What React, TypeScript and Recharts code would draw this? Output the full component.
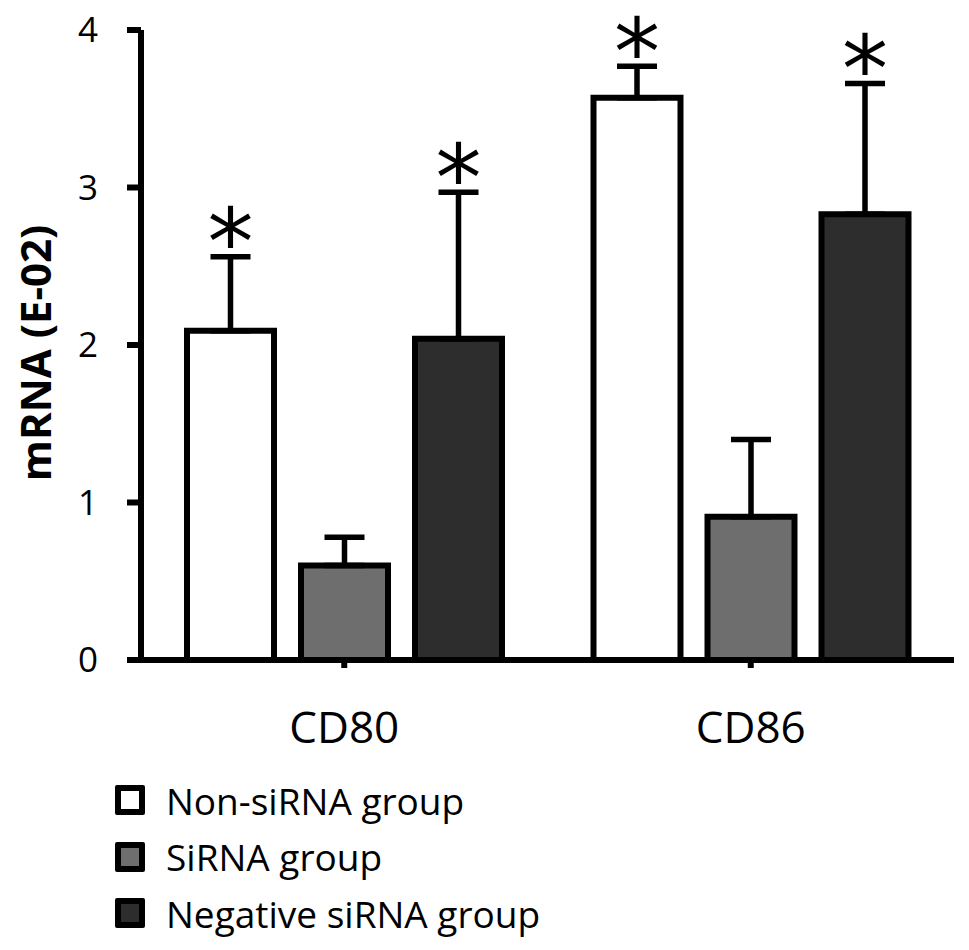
import React from 'react';
import { BarChart, Bar, XAxis, YAxis, ErrorBar, LabelList, Legend } from 'recharts';

const categories = ['CD80', 'CD86'];
const nonSiRNA = [2.09, 3.57];
const nonSiRNAErr = [0.47, 0.2];
const siRNA = [0.6, 0.91];
const siRNAErr = [0.18, 0.49];
const negSiRNA = [2.04, 2.83];
const negSiRNAErr = [0.93, 0.83];
const nonStar = [true, true];
const siStar = [false, false];
const negStar = [true, true];
const yTicks = [0, 1, 2, 3, 4];
const yLabel = 'mRNA (E-02)';

const series = [
  { key: 'non', name: 'Non-siRNA group', values: nonSiRNA, errors: nonSiRNAErr, stars: nonStar, fill: '#ffffff' },
  { key: 'si', name: 'SiRNA group', values: siRNA, errors: siRNAErr, stars: siStar, fill: '#6e6e6e' },
  { key: 'neg', name: 'Negative siRNA group', values: negSiRNA, errors: negSiRNAErr, stars: negStar, fill: '#2d2d2d' },
];

const data = categories.map((c, i) => {
  const row: any = { category: c };
  series.forEach((s) => {
    row[s.key] = s.values[i];
    row[s.key + 'Err'] = [0, s.errors[i]];
    row[s.key + 'Star'] = s.stars[i] ? '*' : '';
  });
  return row;
});

const FONT = '"Open Sans", sans-serif';

const makeStar = (s: any) => (props: any) => {
  const { x, y, width, height, index, value } = props;
  if (!value) return null;
  const v = s.values[index];
  const perUnit = Number(height) / v;
  const errTop = Number(y) - s.errors[index] * perUnit;
  const cx = Number(x) + Number(width) / 2;
  const fs = 92;
  return (
    <text x={cx} y={errTop - 32 + 0.55 * fs} textAnchor="middle" fontSize={fs} fontFamily='"DejaVu Sans", sans-serif' fill="#000">
      {value}
    </text>
  );
};

const LegendContent = () => (
  <div style={{ fontFamily: FONT, fontSize: 37, color: '#000' }}>
    {series.map((s) => (
      <div key={s.key} style={{ display: 'flex', alignItems: 'center', height: 56.5 }}>
        <div style={{ width: 30, height: 30, boxSizing: 'border-box', border: '6px solid #000', borderRadius: 2, background: s.fill, marginRight: 21 }} />
        <span style={{ lineHeight: 1 }}>{s.name}</span>
      </div>
    ))}
  </div>
);

export default function App() {
  return (
    <div style={{ position: 'absolute', left: 0, top: 0, width: 969, height: 950, background: '#fff' }}>
      <BarChart
        width={969}
        height={950}
        data={data}
        margin={{ top: 30, right: 15, bottom: 230, left: 0 }}
        barSize={87}
        barGap={27}
      >
        <XAxis
          dataKey="category"
          height={60}
          axisLine={{ stroke: '#000', strokeWidth: 6 }}
          tickLine={{ stroke: '#000', strokeWidth: 6 }}
          tickSize={8}
          tickMargin={44}
          tick={{ fill: '#000', fontSize: 44, fontFamily: FONT }}
        />
        <YAxis
          width={141}
          domain={[0, 4]}
          ticks={yTicks}
          interval={0}
          axisLine={{ stroke: '#000', strokeWidth: 6 }}
          tickLine={{ stroke: '#000', strokeWidth: 6 }}
          tickSize={14}
          tickMargin={29}
          tick={{ fill: '#000', fontSize: 35, fontFamily: FONT }}
          label={{
            content: (p: any) => {
              const vb = p.viewBox || {};
              const cy = (vb.y || 0) + (vb.height || 0) / 2 + 8;
              return (
                <text
                  x={51}
                  y={cy}
                  transform={`rotate(-90, 51, ${cy})`}
                  textAnchor="middle"
                  fontSize={42}
                  fontWeight="bold"
                  fontFamily={FONT}
                  fill="#000"
                >
                  {yLabel}
                </text>
              );
            },
          }}
        />
        {series.map((s) => (
          <Bar key={s.key} dataKey={s.key} name={s.name} fill={s.fill} stroke="#000" strokeWidth={6} isAnimationActive={false}>
            <ErrorBar dataKey={s.key + 'Err'} direction="y" width={20} stroke="#000" strokeWidth={5.5} />
            <LabelList dataKey={s.key + 'Star'} content={makeStar(s)} />
          </Bar>
        ))}
        <Legend
          layout="horizontal"
          verticalAlign="middle"
          align="center"
          wrapperStyle={{ left: 115, top: 772, width: 500, height: 170 }}
          content={LegendContent}
        />
      </BarChart>
    </div>
  );
}
